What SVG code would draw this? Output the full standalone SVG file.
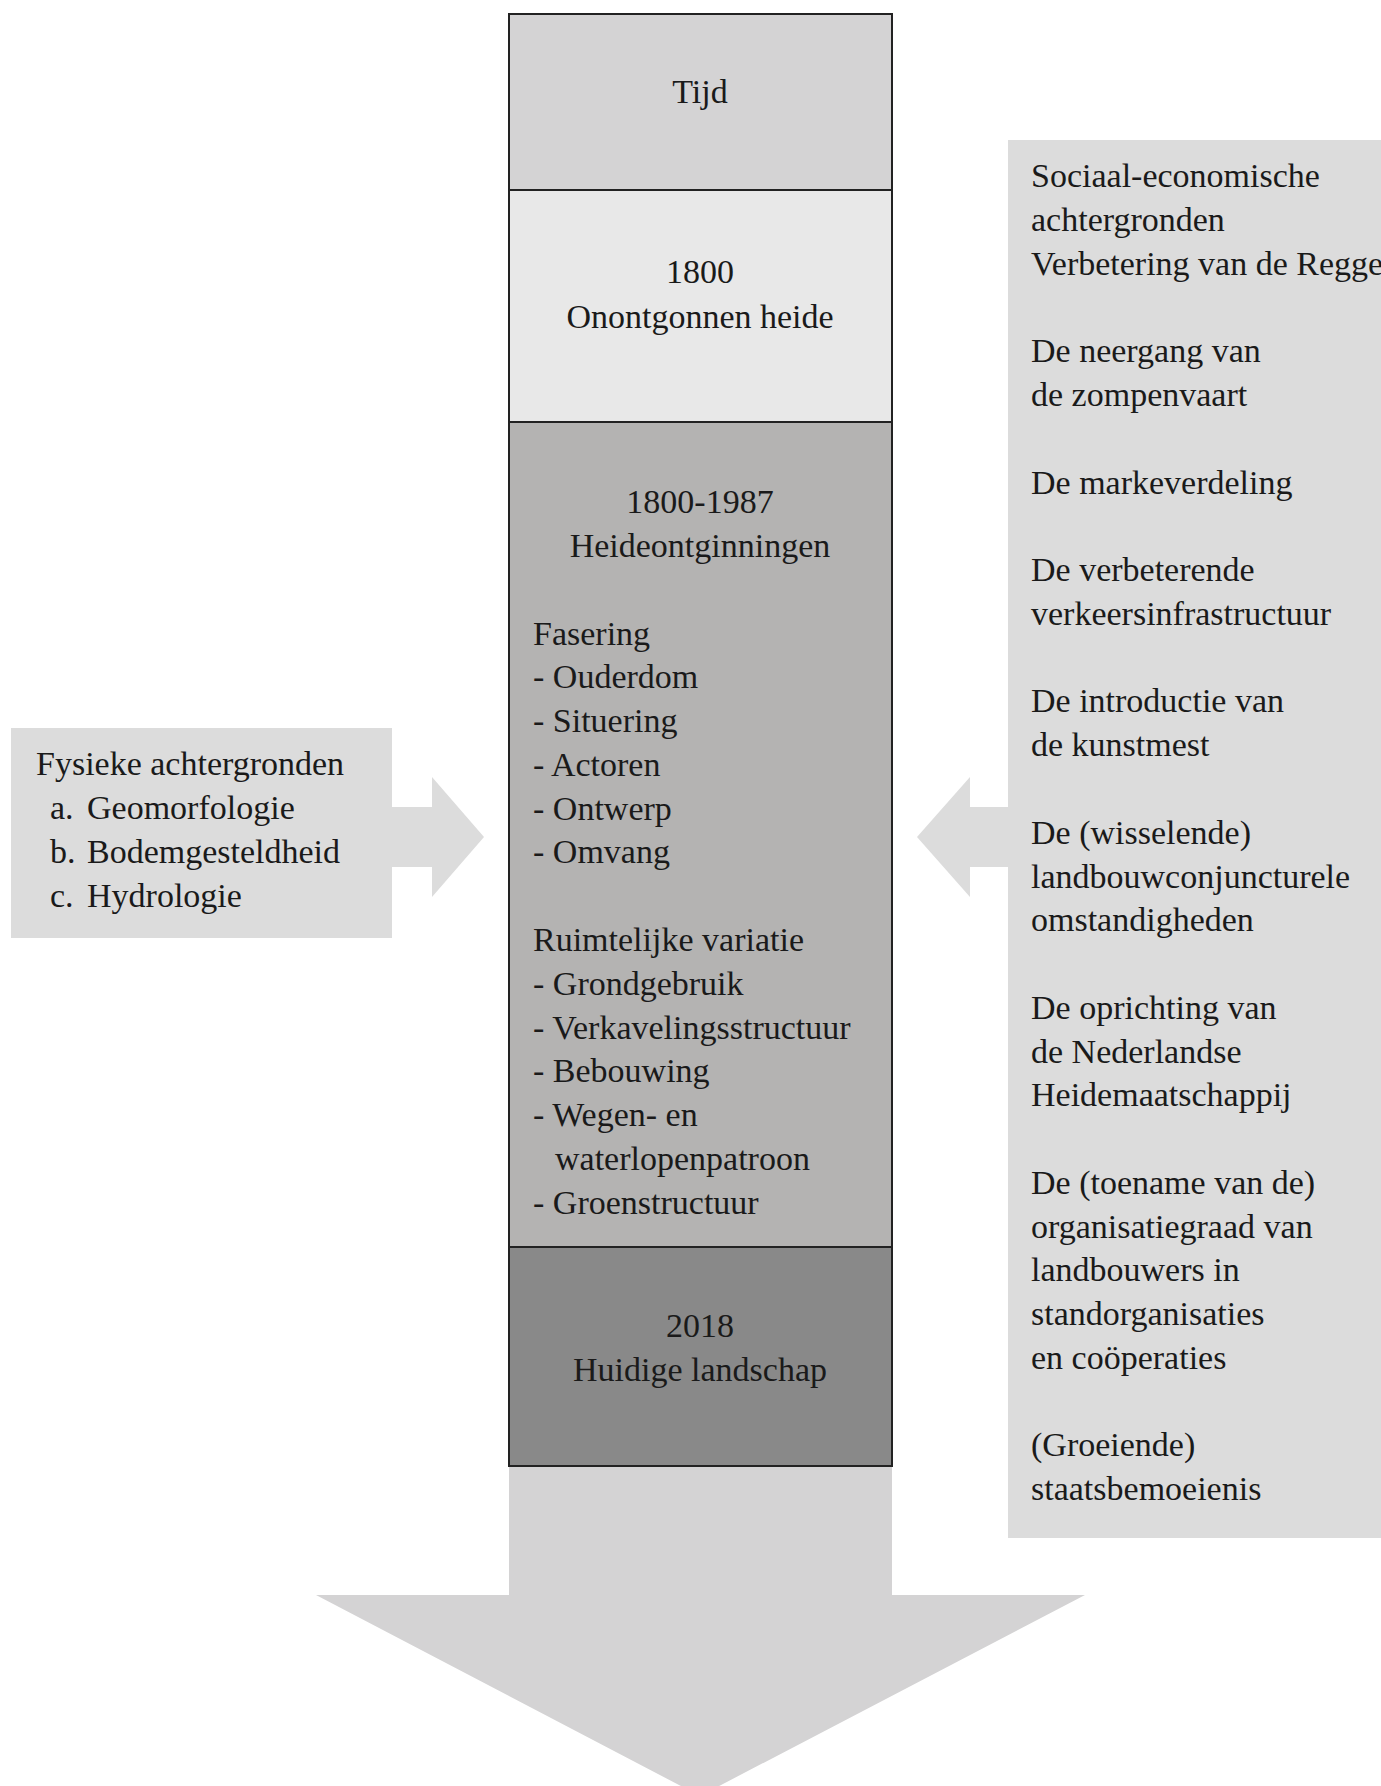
<svg xmlns="http://www.w3.org/2000/svg" width="1381" height="1786" viewBox="0 0 1381 1786">
<style>
text{font-family:"Liberation Serif","DejaVu Serif",serif;font-size:34px;fill:#1a1a1a}
.c{text-anchor:middle}
.box{stroke:#222;stroke-width:2}
.side{fill:#dcdcdc}
</style>
<rect width="1381" height="1786" fill="#fff"/>
<g id="connectors">
<polygon fill="#d4d3d4" points="509,1460 892,1460 892,1595 1085,1595 700,1796 316,1595 509,1595"/>
<polygon class="side" points="392,807 432,807 432,777 484,837 432,897 432,867 392,867"/>
<polygon class="side" points="1008,807 970,807 970,777 917,837 970,897 970,867 1008,867"/>
</g>
<g id="tijd">
<rect class="box" x="509" y="14" width="383" height="176" fill="#d4d3d4"/>
<text class="c" x="700" y="103">Tijd</text>
</g>
<g id="p1800">
<rect class="box" x="509" y="190" width="383" height="232" fill="#e8e8e8"/>
<text class="c" x="700" y="283">1800</text>
<text class="c" x="700" y="328">Onontgonnen heide</text>
</g>
<g id="p1800-1987">
<rect class="box" x="509" y="422" width="383" height="825" fill="#b4b3b2"/>
<text class="c" x="700" y="513">1800-1987</text>
<text class="c" x="700" y="557">Heideontginningen</text>
<text x="533" y="645">Fasering</text>
<text x="533" y="688">- Ouderdom</text>
<text x="533" y="732">- Situering</text>
<text x="533" y="776">- Actoren</text>
<text x="533" y="820">- Ontwerp</text>
<text x="533" y="863">- Omvang</text>
<text x="533" y="951">Ruimtelijke variatie</text>
<text x="533" y="995">- Grondgebruik</text>
<text x="533" y="1039">- Verkavelingsstructuur</text>
<text x="533" y="1082">- Bebouwing</text>
<text x="533" y="1126">- Wegen- en</text>
<text x="555" y="1170">waterlopenpatroon</text>
<text x="533" y="1214">- Groenstructuur</text>
</g>
<g id="p2018">
<rect class="box" x="509" y="1247" width="383" height="219" fill="#898989"/>
<text class="c" x="700" y="1337">2018</text>
<text class="c" x="700" y="1381">Huidige landschap</text>
</g>
<g id="fysiek">
<rect class="side" x="11" y="728" width="381" height="210"/>
<text x="36" y="775">Fysieke achtergronden</text>
<text x="50" y="819">a.<tspan x="87">Geomorfologie</tspan></text>
<text x="50" y="863">b.<tspan x="87">Bodemgesteldheid</tspan></text>
<text x="50" y="907">c.<tspan x="87">Hydrologie</tspan></text>
</g>
<g id="sociaal">
<rect class="side" x="1008" y="140" width="373" height="1398"/>
<text x="1031" y="187">Sociaal-economische</text>
<text x="1031" y="231">achtergronden</text>
<text x="1031" y="275">Verbetering van de Regge</text>
<text x="1031" y="362">De neergang van</text>
<text x="1031" y="406">de zompenvaart</text>
<text x="1031" y="494">De markeverdeling</text>
<text x="1031" y="581">De verbeterende</text>
<text x="1031" y="625">verkeersinfrastructuur</text>
<text x="1031" y="712">De introductie van</text>
<text x="1031" y="756">de kunstmest</text>
<text x="1031" y="844">De (wisselende)</text>
<text x="1031" y="888">landbouwconjuncturele</text>
<text x="1031" y="931">omstandigheden</text>
<text x="1031" y="1019">De oprichting van</text>
<text x="1031" y="1063">de Nederlandse</text>
<text x="1031" y="1106">Heidemaatschappij</text>
<text x="1031" y="1194">De (toename van de)</text>
<text x="1031" y="1238">organisatiegraad van</text>
<text x="1031" y="1281">landbouwers in</text>
<text x="1031" y="1325">standorganisaties</text>
<text x="1031" y="1369">en coöperaties</text>
<text x="1031" y="1456">(Groeiende)</text>
<text x="1031" y="1500">staatsbemoeienis</text>
</g>
</svg>
